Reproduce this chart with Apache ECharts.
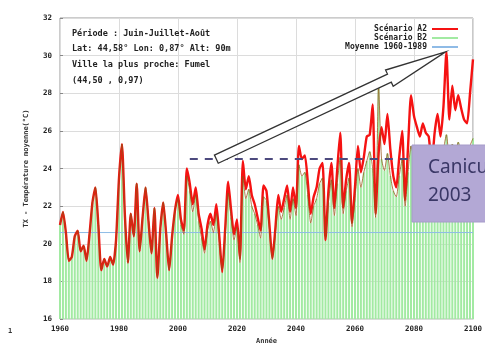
<!DOCTYPE html>
<html>
<head>
<meta charset="utf-8">
<script src="https://cdn.jsdelivr.net/npm/echarts@6/dist/echarts.min.js"></script>
<style>
html, body { margin: 0; padding: 0; background: #fff; }
#chart { width: 485px; height: 350px; }
</style>
</head>
<body>
<div id="chart"></div>
<script>
// années 1960..2100
const startYear = 1960
const years = []
for (let y = startYear; y <= 2100; y++) years.push(y)

// Scénario A2
const scenarioA2 = [
  21.0, 21.7, 20.6, 19.1, 19.3, 20.4, 20.7, 19.6, 19.9, 19.1,
  20.5, 22.2, 23.0, 21.0, 18.6, 19.2, 18.8, 19.3, 18.9, 20.2,
  23.5, 25.3, 21.5, 19.0, 21.6, 20.4, 23.2, 19.6, 21.4, 23.0,
  21.2, 19.5, 21.9, 18.2, 20.8, 22.2, 20.5, 18.6, 20.4, 21.8,
  22.6, 21.3, 20.7, 24.0, 23.2, 22.1, 23.0, 21.6, 20.8, 19.7,
  21.0, 21.6, 21.0, 22.1, 20.4, 18.5, 20.8, 23.3, 21.8, 20.5,
  21.3, 19.2, 24.4, 22.9, 23.6, 22.6, 22.1, 21.4, 20.7, 23.1,
  22.8, 21.0, 19.2, 20.8, 22.6, 21.7, 22.4, 23.1, 21.7, 23.0,
  21.9, 25.2, 24.5, 24.7, 23.3, 21.6, 22.5, 23.0, 24.0, 24.3,
  20.2, 22.8, 24.3, 21.9, 24.0, 25.9, 21.9, 23.4, 24.3, 21.1,
  23.0, 25.2, 23.8, 24.6, 25.7, 25.8, 27.4, 21.6, 24.8, 26.2,
  25.3, 26.9, 25.0, 23.6, 23.0, 24.6, 26.0, 22.3, 25.2, 27.9,
  26.8, 26.2, 25.7, 26.4, 25.9, 25.7, 24.2, 25.9, 26.9, 25.7,
  27.3, 30.2, 26.6, 28.4, 27.1, 27.9, 27.2, 26.6, 26.4, 28.0,
  29.8
]

// Scénario B2
const scenarioB2 = [
  21.0, 21.7, 20.6, 19.1, 19.3, 20.4, 20.7, 19.6, 19.9, 19.1,
  20.5, 22.2, 23.0, 21.0, 18.6, 19.2, 18.8, 19.3, 18.9, 20.2,
  23.5, 25.3, 21.5, 19.0, 21.6, 20.4, 23.2, 19.6, 21.4, 23.0,
  21.2, 19.5, 21.9, 18.2, 20.8, 22.2, 20.5, 18.6, 20.4, 21.8,
  22.4, 21.0, 20.5, 23.6, 22.8, 21.7, 22.6, 21.2, 20.3, 19.5,
  20.7, 21.2, 20.6, 21.6, 20.0, 18.6, 20.4, 22.7, 21.4, 20.2,
  20.9, 19.0, 23.6, 22.4, 22.9, 22.0, 21.6, 21.0, 20.3, 22.5,
  22.3, 20.7, 19.2, 20.5, 22.0, 21.3, 21.9, 22.6, 21.3, 22.4,
  21.5, 24.2, 23.6, 23.8, 22.6, 21.1, 22.0, 22.4, 23.2, 23.5,
  20.3, 22.2, 23.4, 21.5, 23.2, 24.6, 21.6, 22.8, 23.5, 20.9,
  22.4, 24.0, 23.0, 23.8, 24.4, 24.9, 24.0, 21.4, 28.4, 24.5,
  23.9, 24.8, 23.6, 22.8, 22.5, 23.6, 24.5, 22.0, 23.8, 25.2,
  24.6, 24.3, 23.9, 24.6, 24.2, 24.0, 23.2, 24.3, 25.0, 24.1,
  25.0, 25.8, 24.6, 25.3, 24.8, 25.4, 24.9, 24.5, 24.3, 25.2,
  25.6
]

const moyenne6089 = 20.6
const canicule2003 = 24.5
const caniculeFrom = 2004
const arrowTail = [2013, 24.5]
const arrowTip = [2090.7, 30.2]

const yTicks = [16, 18, 20, 22, 24, 26, 28, 30, 32]
const xTicks = [1960, 1980, 2000, 2020, 2040, 2060, 2080, 2100]

const infoLines = [
  'Période : Juin-Juillet-Août',
  'Lat: 44,58° Lon: 0,87° Alt: 90m',
  'Ville la plus proche: Fumel',
  '(44,50 , 0,97)'
]

const mono = 'DejaVu Sans Mono'
const chart = echarts.init(document.getElementById('chart'))

const option = {
  animation: false,
  grid: { left: 60, right: 12, top: 18, bottom: 22, show: true, borderColor: '#999', borderWidth: 1 },
  legend: {
    orient: 'vertical', align: 'right', right: 22, top: 20, itemGap: 1,
    itemWidth: 26, itemHeight: 2, icon: 'rect',
    data: ['Scénario A2', 'Scénario B2', 'Moyenne 1960-1989'],
    textStyle: { fontFamily: mono, fontSize: 8, fontWeight: 'bold', color: '#222', padding: [0, 0, 0, 0] }
  },
  xAxis: {
    type: 'value', min: 1960, max: 2100, interval: 20,
    name: 'Année', nameLocation: 'middle', nameGap: 17,
    nameTextStyle: { fontFamily: mono, fontSize: 7, fontWeight: 'bold', color: '#333' },
    axisLine: { show: false },
    axisTick: { inside: true, length: 3, lineStyle: { color: '#888' } },
    axisLabel: { fontFamily: mono, fontSize: 7.5, fontWeight: 'bold', color: '#222', margin: 6,
      formatter: v => xTicks.includes(v) ? String(v) : '' },
    splitLine: { lineStyle: { color: '#dcdcdc', width: 1 } }
  },
  yAxis: {
    type: 'value', min: 16, max: 32, interval: 2,
    name: 'TX - Température moyenne(°C)', nameLocation: 'middle', nameGap: 30,
    nameTextStyle: { fontFamily: mono, fontSize: 7, fontWeight: 'bold', color: '#333' },
    axisLine: { show: false },
    axisTick: { inside: true, length: 3, lineStyle: { color: '#888' } },
    axisLabel: { fontFamily: mono, fontSize: 7.5, fontWeight: 'bold', color: '#222', margin: 8,
      formatter: v => yTicks.includes(v) ? String(v) : '' },
    splitLine: { lineStyle: { color: '#dcdcdc', width: 1 } }
  },
  series: [
    {
      name: 'Scénario B2', type: 'bar', barWidth: 2, silent: true,
      itemStyle: { color: '#a2eaa2' },
      data: years.map((y, i) => [y, scenarioB2[i]])
    },
    {
      name: 'Moyenne 1960-1989', type: 'line', symbol: 'none', silent: true,
      lineStyle: { color: '#8fbbe6', width: 1 }, itemStyle: { color: '#8fbbe6' },
      data: [[1960, moyenne6089], [2100, moyenne6089]],
      markLine: {
        silent: true, symbol: 'none', label: { show: false },
        lineStyle: { color: '#4d4a7e', width: 2, type: [8, 7] },
        data: [[{ coord: [caniculeFrom, canicule2003] }, { coord: [2100, canicule2003] }]]
      }
    },
    {
      name: 'Scénario A2', type: 'line', symbol: 'none', smooth: 0.2, silent: true,
      lineStyle: { color: '#f51212', width: 2.4 }, itemStyle: { color: '#f51212' },
      data: years.map((y, i) => [y, scenarioA2[i]])
    },
    {
      name: 'B2 trait', type: 'line', symbol: 'none', smooth: 0.2, silent: true,
      lineStyle: { color: 'rgba(150, 80, 20, 0.75)', width: 1 },
      data: years.map((y, i) => [y, scenarioB2[i]])
    }
  ]
}
chart.setOption(option)

// flèche, encadré et textes
const p0 = chart.convertToPixel({ gridIndex: 0 }, arrowTail)
const p1 = chart.convertToPixel({ gridIndex: 0 }, arrowTip)
const dx = p1[0] - p0[0], dy = p1[1] - p0[1], len = Math.hypot(dx, dy)
const ux = dx / len, uy = dy / len, nx = -uy, ny = ux
const sw = 4.5, hw = 9, hl = 62
const bx = p1[0] - ux * hl, by = p1[1] - uy * hl
const arrowPts = [
  [p0[0] + nx * sw, p0[1] + ny * sw],
  [bx + nx * sw, by + ny * sw],
  [bx + nx * hw, by + ny * hw],
  p1,
  [bx - nx * hw, by - ny * hw],
  [bx - nx * sw, by - ny * sw],
  [p0[0] - nx * sw, p0[1] - ny * sw]
]

const graphics = [
  { type: 'polygon', z: 50, shape: { points: arrowPts },
    style: { fill: '#fff', stroke: '#333', lineWidth: 1.3 } },
  { type: 'rect', z: 60, shape: { x: 412, y: 145, width: 80, height: 77 },
    style: { fill: '#b3a8d5', stroke: '#a69bc9', lineWidth: 1 } },
  { type: 'text', z: 61, left: 428, top: 158,
    style: { text: 'Canicule', font: '19px "Noto Sans"', fill: '#3a3766' } },
  { type: 'text', z: 61, left: 428, top: 186,
    style: { text: '2003', font: '19px "Noto Sans"', fill: '#3a3766' } },
  { type: 'text', left: 8, top: 328,
    style: { text: '1', font: 'bold 7px ' + mono, fill: '#333' } }
]
infoLines.forEach((t, i) => {
  graphics.push({ type: 'text', z: 40, left: 72, top: 29 + i * 15.7,
    style: { text: t, font: 'bold 8.5px ' + mono, fill: '#222' } })
})
chart.setOption({ graphic: graphics })
</script>
</body>
</html>
